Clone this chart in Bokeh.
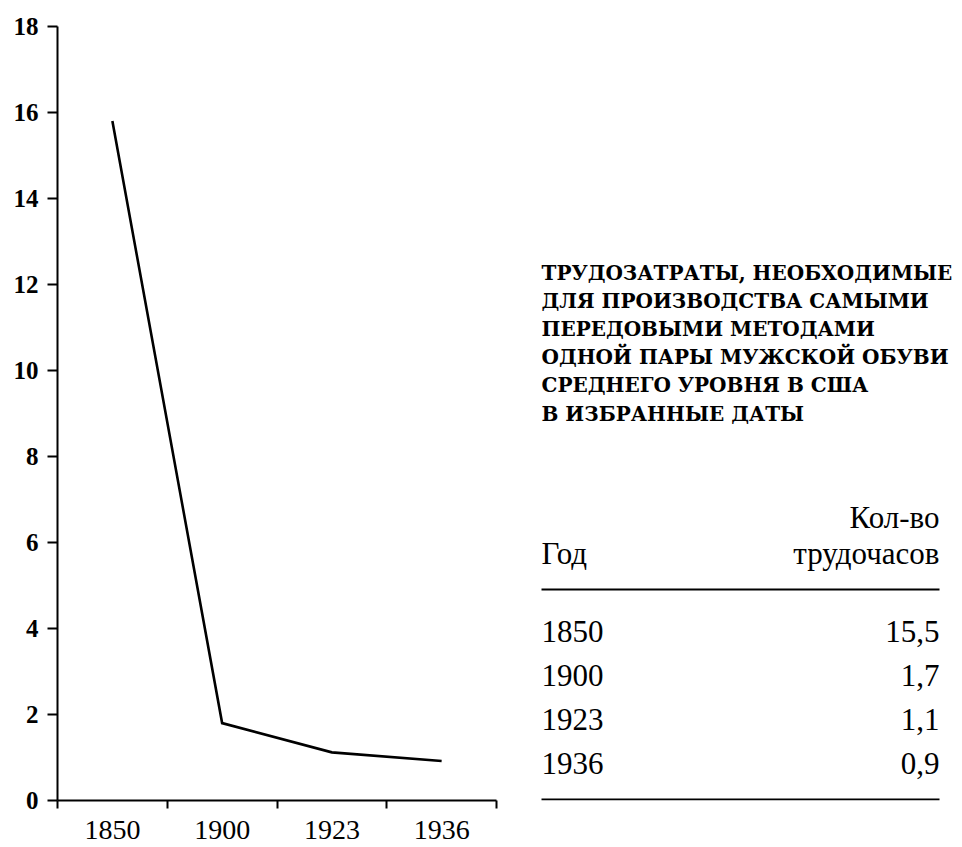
from bokeh.plotting import figure
from bokeh.models import Range1d, FixedTicker, ColumnDataSource
from bokeh.core.properties import value
from bokeh.embed import file_html
from bokeh.resources import INLINE

# ---- data ----
years = ["1850", "1900", "1923", "1936"]
line_values = [15.8, 1.8, 1.12, 0.92]          # as drawn in the chart
table_values = ["15,5", "1,7", "1,1", "0,9"]   # as printed in the table
y_ticks = [0, 2, 4, 6, 8, 10, 12, 14, 16, 18]
title_lines = [
    "ТРУДОЗАТРАТЫ, НЕОБХОДИМЫЕ",
    "ДЛЯ ПРОИЗВОДСТВА САМЫМИ",
    "ПЕРЕДОВЫМИ МЕТОДАМИ",
    "ОДНОЙ ПАРЫ МУЖСКОЙ ОБУВИ",
    "СРЕДНЕГО УРОВНЯ В США",
    "В ИЗБРАННЫЕ ДАТЫ",
]
col_year = "Год"
col_hours = ["Кол-во", "трудочасов"]

SERIF = "Liberation Serif"

# ---- geometry (page pixels) ----
W, H = 962, 847
L, T, R, B = 57, 26, 0, 47
CHART_RIGHT = 496                      # where the x axis ends
fw = W - L - R
n = len(years)
x_end = n * fw / (CHART_RIGHT - L)     # chart covers 0..n of the x range

p = figure(width=W, height=H, output_backend="svg", toolbar_location=None,
           x_range=Range1d(0, x_end), y_range=Range1d(0, 18),
           min_border_left=L, min_border_right=R, min_border_top=T,
           min_border_bottom=B)
p.grid.visible = False
p.outline_line_color = None
p.background_fill_color = "white"
p.border_fill_color = "white"
p.extra_x_ranges = {"px": Range1d(L, W - R)}
p.extra_y_ranges = {"py": Range1d(H - B, T)}

xs = [i + 0.5 for i in range(n)]
p.line(xs, line_values, line_color="black", line_width=2.6, line_join="miter")

xa = p.xaxis[0]
xa.bounds = (0, n)
xa.ticker = FixedTicker(ticks=xs, minor_ticks=list(range(n + 1)))
xa.major_label_overrides = {x: y for x, y in zip(xs, years)}
xa.major_tick_out = 0
xa.major_tick_in = 0
xa.minor_tick_out = 8
xa.minor_tick_in = 0
xa.minor_tick_line_width = 2
xa.minor_tick_line_color = "black"
xa.axis_line_width = 2
xa.axis_line_color = "black"
xa.major_label_text_font = SERIF
xa.major_label_text_font_size = "28px"
xa.major_label_text_color = "black"
xa.major_label_standoff = 12

ya = p.yaxis[0]
ya.ticker = FixedTicker(ticks=y_ticks)
ya.minor_tick_out = 0
ya.minor_tick_in = 0
ya.major_tick_out = 10
ya.major_tick_in = 0
ya.major_tick_line_width = 2
ya.major_tick_line_color = "black"
ya.axis_line_width = 2
ya.axis_line_color = "black"
ya.major_label_text_font = SERIF
ya.major_label_text_font_style = "bold"
ya.major_label_text_font_size = "25px"
ya.major_label_text_color = "black"
ya.major_label_standoff = 9

# ---- title and table (placed in page-pixel ranges) ----
LEFT, RIGHT = 541, 939
kw = dict(x_range_name="px", y_range_name="py", text_color="black",
          text_baseline="middle")
title_y = [272 + 28.2 * i for i in range(len(title_lines))]
p.text(x=[LEFT] * len(title_lines), y=title_y, text=title_lines,
       text_font=value("DejaVu Serif"), text_font_style="bold",
       text_font_size="20px", text_align="left", **kw)

p.text(x=[RIGHT], y=[517], text=[col_hours[0]], text_font=value(SERIF),
       text_font_size="31px", text_align="right", **kw)
p.text(x=[RIGHT], y=[553], text=[col_hours[1]], text_font=value(SERIF),
       text_font_size="31px", text_align="right", **kw)
p.text(x=[LEFT], y=[553], text=[col_year], text_font=value(SERIF),
       text_font_size="31px", text_align="left", **kw)

p.segment(x0=[LEFT, LEFT], y0=[589, 799], x1=[RIGHT, RIGHT], y1=[589, 799],
          line_color="black", line_width=2, x_range_name="px",
          y_range_name="py")

row_y = [631 + 44 * i for i in range(n)]
src = ColumnDataSource(dict(x0=[LEFT] * n, x1=[RIGHT] * n, y=row_y,
                            year=years, val=table_values))
p.text(x="x0", y="y", text="year", source=src, text_font=value(SERIF),
       text_font_size="31px", text_align="left", **kw)
p.text(x="x1", y="y", text="val", source=src, text_font=value(SERIF),
       text_font_size="31px", text_align="right", **kw)

open("out.html", "w").write(file_html(p, INLINE))
